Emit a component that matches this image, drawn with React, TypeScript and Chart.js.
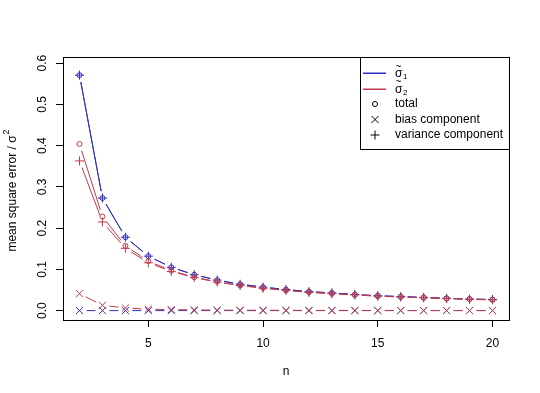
import React, { useEffect, useRef } from "react";
import { Chart, registerables } from "chart.js";

Chart.register(...registerables);

const nValues = [2, 3, 4, 5, 6, 7, 8, 9, 10, 11, 12, 13, 14, 15, 16, 17, 18, 19, 20];
const sigma1Total = [0.571, 0.273, 0.178, 0.132, 0.105, 0.087, 0.074, 0.064, 0.057, 0.051, 0.046, 0.043, 0.039, 0.036, 0.034, 0.032, 0.030, 0.028, 0.027];
const sigma1Bias = [0, 0, 0, 0, 0, 0, 0, 0, 0, 0, 0, 0, 0, 0, 0, 0, 0, 0, 0];
const sigma1Variance = [0.571, 0.273, 0.178, 0.132, 0.105, 0.087, 0.074, 0.064, 0.057, 0.051, 0.046, 0.043, 0.039, 0.036, 0.034, 0.032, 0.030, 0.028, 0.027];
const sigma2Total = [0.404, 0.228, 0.157, 0.120, 0.097, 0.081, 0.070, 0.061, 0.055, 0.049, 0.045, 0.041, 0.038, 0.035, 0.033, 0.031, 0.029, 0.028, 0.026];
const sigma2Bias = [0.041, 0.013, 0.0062, 0.0036, 0.0024, 0.0017, 0.0012, 0.0009, 0.0008, 0.0006, 0.0005, 0.0004, 0.0004, 0.0003, 0.0003, 0.0002, 0.0002, 0.0002, 0.0002];
const sigma2Variance = [0.363, 0.215, 0.151, 0.116, 0.095, 0.080, 0.069, 0.061, 0.054, 0.049, 0.044, 0.041, 0.038, 0.035, 0.033, 0.031, 0.029, 0.027, 0.026];

const xTicks = [5, 10, 15, 20];
const yTicks = [0, 0.1, 0.2, 0.3, 0.4, 0.5, 0.6];
const yTickLabels = ["0.0", "0.1", "0.2", "0.3", "0.4", "0.5", "0.6"];
const legendItems = ["total", "bias component", "variance component"];

const BLUE = "#3030bc";
const RED = "#c23a48";
const FONT = "'Liberation Sans', Arial, sans-serif";

const toPts = (ys: number[]) => nValues.map((n, i) => ({ x: n, y: ys[i] }));

function ds(label: string, ys: number[], color: string, style: string, radius: number, order: number) {
  return {
    label,
    data: toPts(ys),
    showLine: false,
    borderColor: color,
    backgroundColor: "rgba(0,0,0,0)",
    pointStyle: style,
    pointRadius: radius,
    pointBorderColor: color,
    pointBackgroundColor: "rgba(0,0,0,0)",
    pointBorderWidth: 1,
    order,
    gapColor: color,
  } as any;
}

const gappedLines = {
  id: "gappedLines",
  beforeDatasetsDraw(chart: any) {
    const ctx = chart.ctx;
    const gap = 7;
    const metas = chart.getSortedVisibleDatasetMetas().slice().reverse();
    ctx.save();
    ctx.lineWidth = 1;
    for (const meta of metas) {
      const dset = chart.data.datasets[meta.index];
      ctx.strokeStyle = dset.gapColor;
      const pts = meta.data;
      for (let i = 0; i < pts.length - 1; i++) {
        const a = pts[i], b = pts[i + 1];
        const dx = b.x - a.x, dy = b.y - a.y;
        const len = Math.sqrt(dx * dx + dy * dy);
        if (len <= 2 * gap) continue;
        const ux = dx / len, uy = dy / len;
        ctx.beginPath();
        ctx.moveTo(a.x + ux * gap, a.y + uy * gap);
        ctx.lineTo(b.x - ux * gap, b.y - uy * gap);
        ctx.stroke();
      }
    }
    ctx.restore();
  },
};

const boxAndLabels = {
  id: "boxAndLabels",
  afterDraw(chart: any) {
    const ctx = chart.ctx;
    const ca = chart.chartArea;
    ctx.save();
    ctx.strokeStyle = "#000";
    ctx.lineWidth = 1;
    ctx.strokeRect(Math.round(ca.left) + 0.5, Math.round(ca.top) + 0.5, Math.round(ca.right - ca.left), Math.round(ca.bottom - ca.top));

    // y tick labels (rotated, as in R)
    const ys = chart.scales.y;
    ctx.fillStyle = "#000";
    ctx.font = `12px ${FONT}`;
    ctx.textAlign = "center";
    ctx.textBaseline = "middle";
    yTicks.forEach((v, i) => {
      const py = ys.getPixelForValue(v);
      ctx.save();
      ctx.translate(43, py);
      ctx.rotate(-Math.PI / 2);
      ctx.fillText(yTickLabels[i], 0, 0);
      ctx.restore();
    });

    // y axis title
    ctx.save();
    ctx.translate(13, (ca.top + ca.bottom) / 2 + 2);
    ctx.rotate(-Math.PI / 2);
    ctx.font = `12px ${FONT}`;
    const main = "mean square error / σ";
    const w = ctx.measureText(main).width;
    ctx.textAlign = "left";
    ctx.fillText(main, -(w + 6) / 2, 0);
    ctx.font = `9px ${FONT}`;
    ctx.fillText("2", -(w + 6) / 2 + w + 1, -6);
    ctx.restore();

    // legend
    const lx = Math.round(ca.right) - 149;
    const ly = Math.round(ca.top);
    const lw = 149, lh = 92;
    ctx.fillStyle = "#fff";
    ctx.fillRect(lx, ly, lw, lh);
    ctx.strokeStyle = "#000";
    ctx.strokeRect(lx + 0.5, ly + 0.5, lw, lh);
    const rowY = [73, 88.5, 104, 119.5, 135].map((v) => v - 57 + ly);
    const symX = lx + 15;
    const textX = lx + 35;
    const colors = [BLUE, RED];
    ["1", "2"].forEach((sub, i) => {
      const y = rowY[i];
      ctx.fillStyle = colors[i];
      ctx.fillRect(lx + 3, Math.round(y) - 0.5, 23, 1.5);
      ctx.fillStyle = "#000";
      ctx.textAlign = "left";
      ctx.textBaseline = "middle";
      ctx.font = `12px ${FONT}`;
      ctx.fillText("σ", textX, y + 1);
      const sw = ctx.measureText("σ").width;
      ctx.font = `10px ${FONT}`;
      ctx.fillText("~", textX + 0.5, y - 6);
      ctx.font = `8px ${FONT}`;
      ctx.fillText(sub, textX + sw + 0.5, y + 4);
    });
    ctx.fillStyle = "#000";
    ctx.font = `12px ${FONT}`;
    ctx.textAlign = "left";
    ctx.textBaseline = "middle";
    legendItems.forEach((t, i) => {
      const y = rowY[i + 2];
      ctx.fillText(t, textX, y);
      ctx.strokeStyle = "#000";
      ctx.lineWidth = 1;
      ctx.beginPath();
      if (i === 0) {
        ctx.arc(symX, y, 2.5, 0, Math.PI * 2);
      } else if (i === 1) {
        ctx.moveTo(symX - 3.5, y - 3.5);
        ctx.lineTo(symX + 3.5, y + 3.5);
        ctx.moveTo(symX - 3.5, y + 3.5);
        ctx.lineTo(symX + 3.5, y - 3.5);
      } else {
        ctx.moveTo(symX - 4.5, y);
        ctx.lineTo(symX + 4.5, y);
        ctx.moveTo(symX, y - 4.5);
        ctx.lineTo(symX, y + 4.5);
      }
      ctx.stroke();
    });
    ctx.restore();
  },
};

export default function App() {
  const ref = useRef<HTMLCanvasElement | null>(null);
  useEffect(() => {
    if (!ref.current) return;
    const chart = new Chart(ref.current, {
      type: "scatter",
      data: {
        datasets: [
          ds("σ1 total", sigma1Total, BLUE, "circle", 2.5, 2),
          ds("σ1 bias", sigma1Bias, BLUE, "crossRot", 5, 2),
          ds("σ1 variance", sigma1Variance, BLUE, "cross", 4.5, 2),
          ds("σ2 total", sigma2Total, RED, "circle", 2.5, 1),
          ds("σ2 bias", sigma2Bias, RED, "crossRot", 5, 1),
          ds("σ2 variance", sigma2Variance, RED, "cross", 4.5, 1),
        ],
      },
      options: {
        animation: false,
        responsive: false,
        layout: { padding: { top: 57, right: 31, left: 0, bottom: 0 } },
        plugins: { legend: { display: false }, tooltip: { enabled: false } },
        scales: {
          x: {
            type: "linear",
            min: 1.28,
            max: 20.72,
            afterBuildTicks: (s: any) => {
              s.ticks = xTicks.map((v) => ({ value: v }));
            },
            afterFit: (s: any) => {
              s.height = 73;
            },
            grid: { drawOnChartArea: false, drawTicks: true, tickLength: 7, tickColor: "#000" },
            border: { display: true, color: "#000" },
            ticks: { color: "#000", font: { family: FONT, size: 12 }, padding: 9, maxRotation: 0, autoSkip: false },
            title: { display: true, text: "n", color: "#000", font: { family: FONT, size: 12 }, padding: { top: 4, bottom: 14 } },
          },
          y: {
            type: "linear",
            min: -0.0228,
            max: 0.615,
            afterBuildTicks: (s: any) => {
              s.ticks = yTicks.map((v) => ({ value: v }));
            },
            afterFit: (s: any) => {
              s.width = 63;
            },
            grid: { drawOnChartArea: false, drawTicks: true, tickLength: 7, tickColor: "#000" },
            border: { display: true, color: "#000" },
            ticks: { display: false },
          },
        },
      },
      plugins: [gappedLines, boxAndLabels],
    });
    return () => chart.destroy();
  }, []);
  return (
    <div style={{ position: "absolute", left: 0, top: 0, width: 540, height: 393, background: "#fff" }}>
      <canvas ref={ref} width={540} height={393} style={{ display: "block" }} />
    </div>
  );
}
